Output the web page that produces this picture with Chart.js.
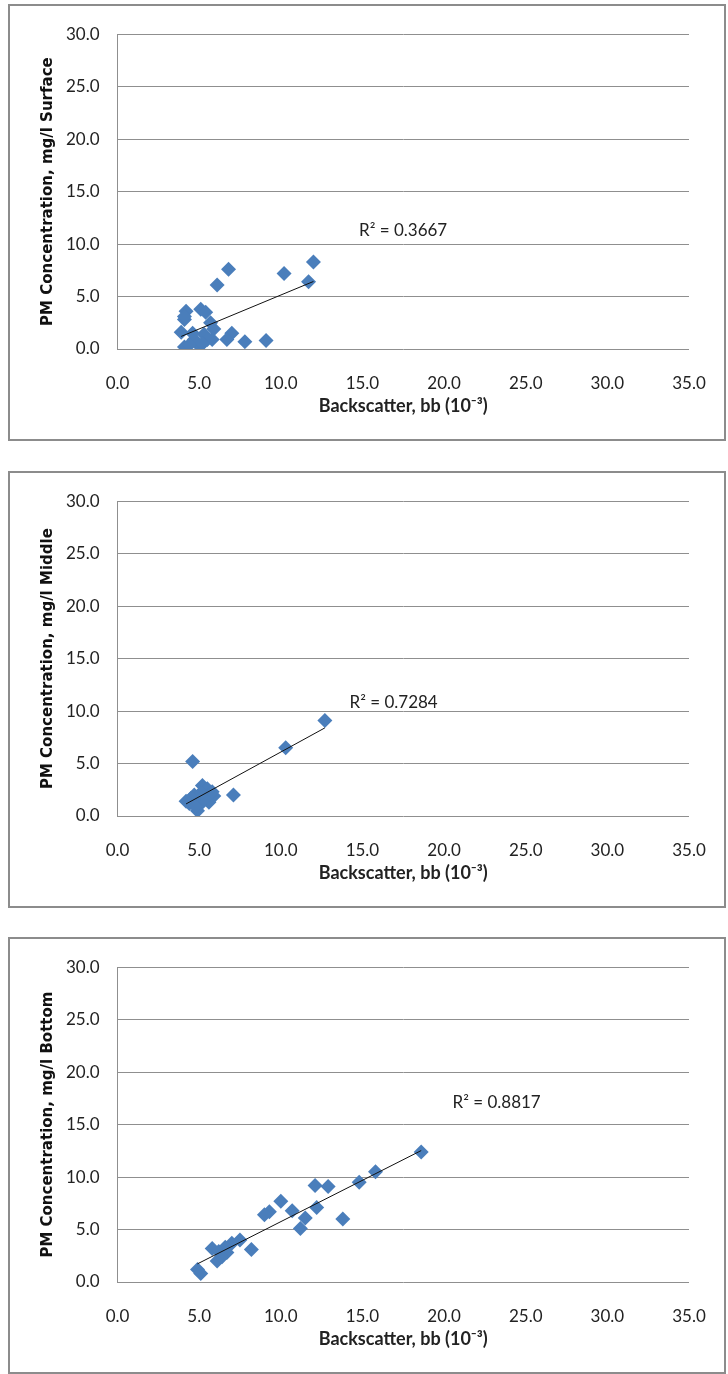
<!DOCTYPE html>
<html>
<head>
<meta charset="utf-8">
<script src="https://cdn.jsdelivr.net/npm/chart.js@4.4.0/dist/chart.umd.min.js"></script>
<style>
  body { margin: 0; background: #fff; width: 728px; height: 1374px; position: relative; overflow: hidden; }
  .box { position: absolute; left: 8px; width: 718px; height: 437px; border: 2px solid #8c8c8c; box-sizing: border-box; }
  .box canvas { position: absolute; left: 0; top: 0; }
</style>
</head>
<body>
<div class="box" style="top:4px"><canvas id="surface" width="714" height="433"></canvas></div>
<div class="box" style="top:471px"><canvas id="middle" width="714" height="433"></canvas></div>
<div class="box" style="top:937px"><canvas id="bottom" width="714" height="433"></canvas></div>
<script>
// backscatter (x) vs PM concentration (y), one pair of arrays per depth
const surfaceX = [12.0, 11.7, 10.2, 6.8, 6.1, 9.1, 7.8, 7.0, 6.7, 5.8, 4.2, 5.1, 5.4, 4.1, 4.1, 3.9, 4.1, 5.0, 5.7, 5.9, 5.3, 4.7, 5.5, 4.6, 4.4, 5.2]
const surfaceY = [8.3, 6.4, 7.2, 7.6, 6.1, 0.8, 0.7, 1.5, 0.9, 0.9, 3.6, 3.8, 3.5, 2.8, 3.1, 1.6, 0.2, 0.3, 2.5, 1.9, 1.4, 0.9, 0.9, 1.5, 0.4, 0.5]

const middleX = [12.7, 10.3, 4.6, 7.1, 4.2, 4.9, 5.2, 5.5, 5.9, 5.6, 4.7, 5.0, 4.5, 5.3, 4.4, 5.8, 5.1, 4.8]
const middleY = [9.1, 6.5, 5.2, 2.0, 1.4, 0.5, 2.9, 2.6, 1.9, 1.3, 2.0, 1.0, 1.7, 1.6, 1.2, 2.3, 2.2, 0.9]

const bottomX = [18.6, 15.8, 14.8, 12.9, 12.1, 12.2, 13.8, 11.5, 11.2, 10.7, 10.0, 9.3, 9.0, 8.2, 7.5, 7.0, 6.6, 6.2, 5.8, 6.1, 6.7, 6.4, 4.9, 5.1]
const bottomY = [12.4, 10.5, 9.5, 9.1, 9.2, 7.1, 6.0, 6.1, 5.1, 6.8, 7.7, 6.7, 6.4, 3.1, 4.0, 3.7, 3.3, 2.9, 3.2, 2.0, 2.8, 2.4, 1.2, 0.8]

const rSquared = ['0.3667', '0.7284', '0.8817']
const depthNames = ['Surface', 'Middle', 'Bottom']

const xTicks = { min: 0, max: 35, step: 5 }
const yTicks = { min: 0, max: 30, step: 5 }

const gridColor = '#8f8f8f'
const markerColor = '#4a7ebb'

// least squares line, drawn over the x range of the data
const trend = (xs, ys) => {
  const n = xs.length
  const mx = xs.reduce((a, b) => a + b, 0) / n
  const my = ys.reduce((a, b) => a + b, 0) / n
  let sxy = 0, sxx = 0
  xs.forEach((x, i) => { sxy += (x - mx) * (ys[i] - my); sxx += (x - mx) * (x - mx) })
  const slope = sxy / sxx
  const icpt = my - slope * mx
  const x0 = Math.min(...xs), x1 = Math.max(...xs)
  return [{ x: x0, y: icpt + slope * x0 }, { x: x1, y: icpt + slope * x1 }]
}

// R² text placed relative to the plot area
const r2Label = {
  id: 'r2Label',
  afterDatasetsDraw(chart, args, opts) {
    const { ctx, chartArea } = chart
    ctx.save()
    ctx.font = '17px Lato'
    ctx.fillStyle = '#222'
    ctx.textBaseline = 'middle'
    ctx.textAlign = 'left'
    ctx.fillText('R² = ' + opts.text, chartArea.left + opts.dx, chartArea.top + opts.dy)
    ctx.restore()
  }
}

const makeChart = (id, xs, ys, r2, depth, labelPos) => {
  const points = xs.map((x, i) => ({ x, y: ys[i] }))
  new Chart(document.getElementById(id), {
    type: 'scatter',
    data: {
      datasets: [{
        type: 'line',
        data: trend(xs, ys),
        borderColor: '#111',
        borderWidth: 1,
        pointRadius: 0,
        fill: false
      }, {
        data: points,
        pointStyle: 'rectRot',
        pointRadius: 7.5,
        backgroundColor: markerColor,
        borderWidth: 0
      }]
    },
    options: {
      responsive: false,
      animation: false,
      events: [],
      layout: { padding: { top: 21, right: 35, left: 0, bottom: 0 } },
      plugins: {
        legend: { display: false },
        tooltip: { enabled: false },
        r2Label: { text: r2, dx: labelPos[0], dy: labelPos[1] }
      },
      scales: {
        x: {
          type: 'linear',
          min: xTicks.min,
          max: xTicks.max,
          afterFit: s => { s.height = 90 },
          grid: { display: false },
          border: { display: false },
          ticks: {
            stepSize: xTicks.step,
            padding: 16,
            color: '#222',
            font: { family: 'Lato', size: 17 },
            callback: v => v.toFixed(1)
          },
          title: {
            display: true,
            text: 'Backscatter, bb (10⁻³)',
            color: '#222',
            font: { family: 'Lato', size: 18, weight: 'bold' },
            padding: { top: 0, bottom: 22 }
          }
        },
        y: {
          min: yTicks.min,
          max: yTicks.max,
          afterFit: s => { s.width = 107.5 },
          grid: { color: gridColor, lineWidth: 1, drawTicks: false },
          border: { display: true, color: gridColor, width: 1 },
          ticks: {
            stepSize: yTicks.step,
            padding: 18,
            color: '#222',
            font: { family: 'Lato', size: 17 },
            callback: v => v.toFixed(1)
          },
          title: {
            display: true,
            text: 'PM Concentration, mg/l ' + depth,
            color: '#111',
            font: { family: 'DejaVu Sans', size: 15, weight: 'bold' },
            padding: { top: 29, bottom: 0 }
          }
        }
      }
    },
    plugins: [r2Label]
  })
}

makeChart('surface', surfaceX, surfaceY, rSquared[0], depthNames[0], [241.5, 196.7])
makeChart('middle', middleX, middleY, rSquared[1], depthNames[1], [232, 201.7])
makeChart('bottom', bottomX, bottomY, rSquared[2], depthNames[2], [335, 135.7])
</script>
</body>
</html>
